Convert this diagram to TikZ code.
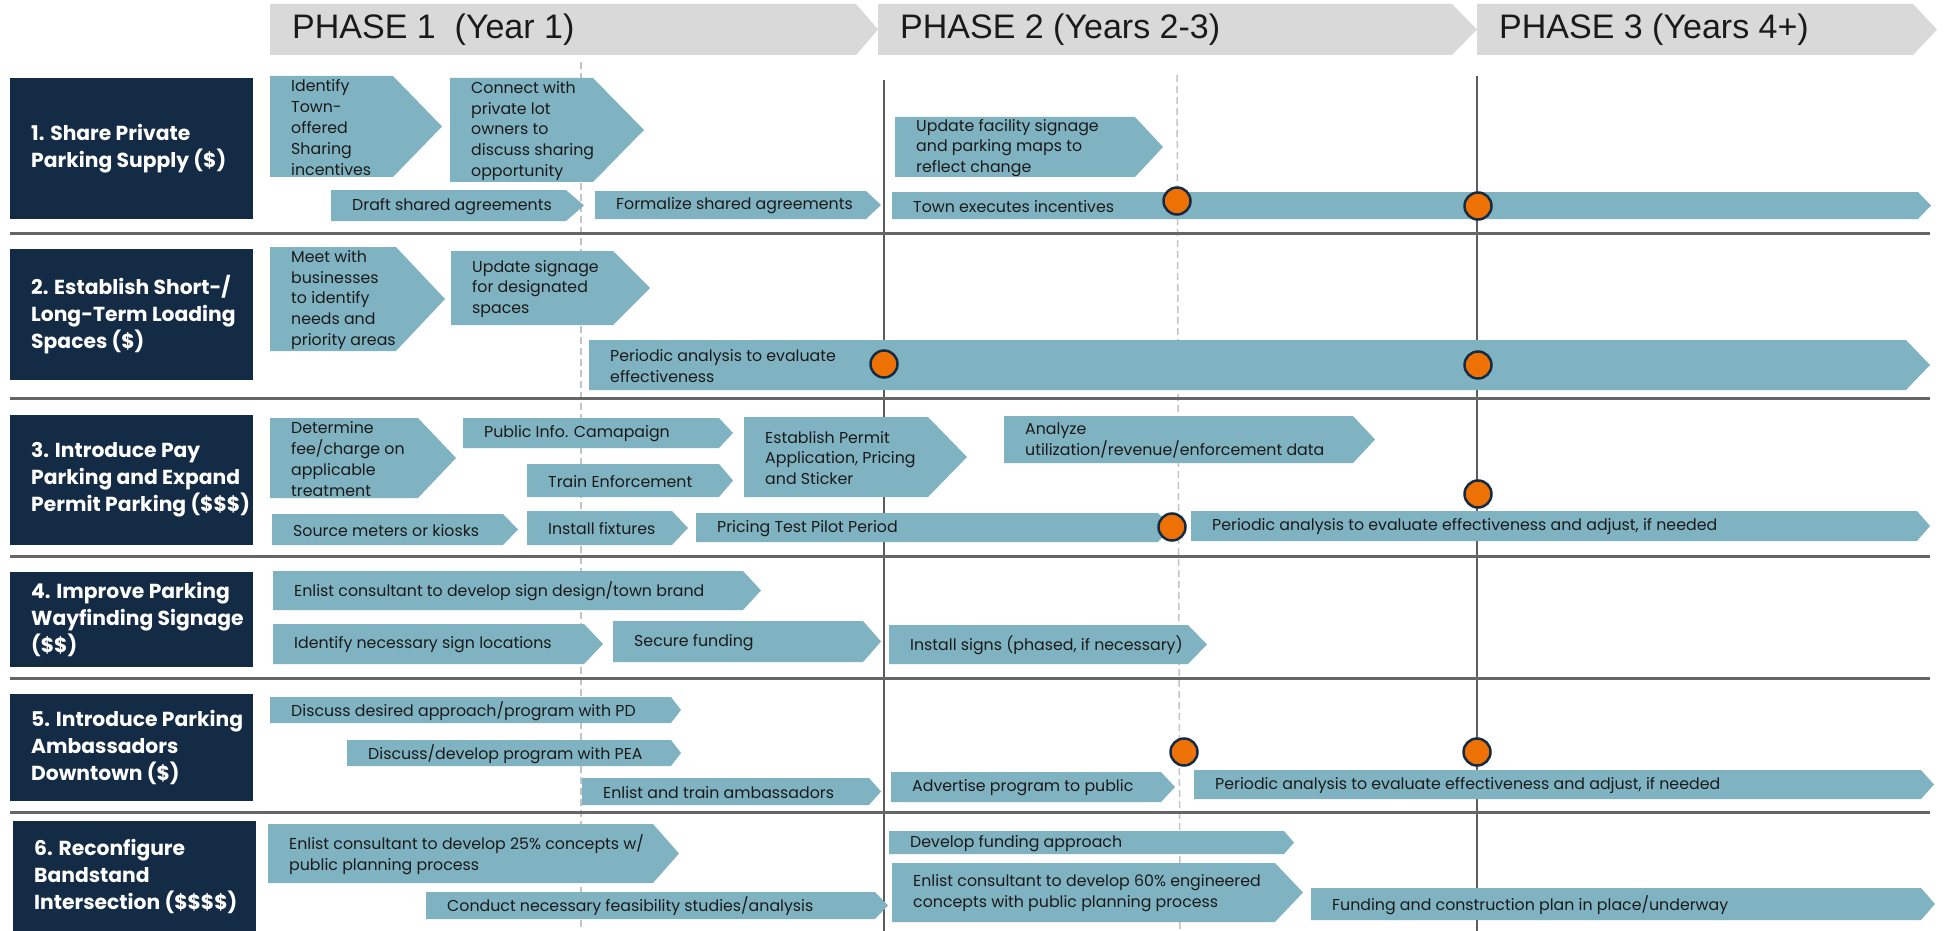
\documentclass[tikz,border=0pt]{standalone}
\usepackage{fontspec}
\setmainfont{Poppins}
\newfontfamily\headfont{Liberation Sans}

\definecolor{taskblue}{HTML}{80B3C2}
\definecolor{navy}{HTML}{142B45}
\definecolor{bannergray}{HTML}{D9D9D9}
\definecolor{dotorange}{HTML}{EE7203}
\definecolor{gridgray}{HTML}{666666}
\definecolor{dashgray}{HTML}{C4C4C4}
\definecolor{inkdark}{HTML}{1A1A1A}

% chevron task bar: name, left x, top y, body end x, tip x, bottom y, text
\newcommand\taskbar[7]{%
  \fill[taskblue] (#2,#3) -- (#4,#3) -- (#5,{(#3+#6)/2}) -- (#4,#6) -- (#2,#6) -- cycle;
  \node[tasktext] (#1) at ({#2+21},{(#3+#6)/2+1}) {#7};
}
% phase banner: name, left x, top y, body end x, tip x, bottom y, text
\newcommand\phasebar[7]{%
  \fill[bannergray] (#2,#3) -- (#4,#3) -- (#5,{(#3+#6)/2}) -- (#4,#6) -- (#2,#6) -- cycle;
  \node[phasetext] (#1) at ({#2+22},{(#3+#6)/2}) {#7};
}
% action label box: name, x1, y1, x2, y2, text
\newcommand\rowbox[6]{%
  \fill[navy] (#2,#3) rectangle (#4,#5);
  \node[rowlabel] (#1) at ({#2+21},{(#3+#5)/2}) {#6};
}

\begin{document}
\begin{tikzpicture}[x=1pt,y=-1pt,
  tasktext/.style={anchor=west, inner sep=0pt, align=left, text=inkdark,
    font=\fontsize{15.8}{20.8}\selectfont},
  phasetext/.style={anchor=west, inner sep=0pt, text=inkdark,
    font=\headfont\fontsize{34}{40}\selectfont},
  rowlabel/.style={anchor=west, inner sep=0pt, align=left, text=white,
    font=\bfseries\fontsize{20.3}{27}\selectfont},
  milestone/.style={circle, draw=navy, line width=2.5pt, fill=dotorange,
    minimum size=27pt, inner sep=0pt},
  separator/.style={draw=gridgray, line width=3pt},
  phaseline/.style={draw=gridgray!90!black, line width=2pt},
  yearline/.style={draw=dashgray, line width=1.5pt, dash pattern=on 7pt off 4pt}
]
\useasboundingbox (0,0) rectangle (1947,931);
\fill[white] (0,0) rectangle (1947,931);

% phase banners
\phasebar{p1}{270}{4}{856}{878}{55}{PHASE 1~~(Year 1)}
\phasebar{p2}{878}{4}{1452}{1477}{55}{PHASE 2 (Years 2-3)}
\phasebar{p3}{1477}{4}{1913}{1937}{55}{PHASE 3 (Years 4+)}

% time grid
\coordinate (q1t) at (581,62);  \coordinate (q1b) at (581,931);
\coordinate (y1t) at (884,80);  \coordinate (y1b) at (884,931);
\coordinate (q2t) at (1177,75); \coordinate (q2b) at (1180,931);
\coordinate (y3t) at (1477,76); \coordinate (y3b) at (1477,931);
\draw[yearline] (q1t) -- (q1b);
\draw[yearline] (q2t) -- (q2b);
\draw[phaseline] (y1t) -- (y1b);
\draw[phaseline] (y3t) -- (y3b);

% row separators
\foreach \yy/\nm in {233/s1, 398/s2, 556/s3, 678/s4, 812/s5}{
  \coordinate (\nm l) at (10,\yy);
  \coordinate (\nm r) at (1930,\yy);
  \draw[separator] (\nm l) -- (\nm r);
}

% action labels
\rowbox{r1}{10}{78}{253}{219}{1. Share Private\\Parking Supply (\$)}
\rowbox{r2}{10}{249}{253}{380}{2. Establish Short-/\\Long-Term Loading\\Spaces (\$)}
\rowbox{r3}{10}{415}{253}{545}{3. Introduce Pay\\Parking and Expand\\Permit Parking (\$\$\$)}
\rowbox{r4}{10}{572}{253}{667}{4. Improve Parking\\Wayfinding Signage\\(\$\$)}
\rowbox{r5}{10}{694}{253}{801}{5. Introduce Parking\\Ambassadors\\Downtown (\$)}
\rowbox{r6}{13}{821}{256}{931}{6. Reconfigure\\Bandstand\\Intersection (\$\$\$\$)}

% 1. shared private parking
\taskbar{t1a}{270}{76}{393}{442}{177}{Identify\\Town-\\offered\\Sharing\\incentives}
\taskbar{t1b}{450}{78}{593}{644}{182}{Connect with\\private lot\\owners to\\discuss sharing\\opportunity}
\taskbar{t1c}{331}{190}{566}{584}{221}{Draft shared agreements}
\taskbar{t1d}{595}{191}{866}{881}{219}{Formalize shared agreements}
\taskbar{t1e}{895}{117}{1135}{1163}{177}{Update facility signage\\and parking maps to\\reflect change}
\taskbar{t1f}{892}{192}{1918}{1931}{219}{Town executes incentives}

% 2. loading spaces
\taskbar{t2a}{270}{247}{396}{445}{351}{Meet with\\businesses\\to identify\\needs and\\priority areas}
\taskbar{t2b}{451}{251}{613}{650}{325}{Update signage\\for designated\\spaces}
\taskbar{t2c}{589}{340}{1906}{1930}{390}{Periodic analysis to evaluate\\effectiveness}

% 3. pay and permit parking
\taskbar{t3a}{270}{418}{418}{456}{498}{Determine\\fee/charge on\\applicable\\treatment}
\taskbar{t3b}{463}{418}{719}{733}{448}{Public Info. Camapaign}
\taskbar{t3c}{527}{464}{719}{733}{497}{Train Enforcement}
\taskbar{t3d}{744}{417}{928}{967}{497}{Establish Permit\\Application, Pricing\\and Sticker}
\taskbar{t3e}{272}{514}{503}{518}{545}{Source meters or kiosks}
\taskbar{t3f}{527}{511}{672}{688}{545}{Install fixtures}
\taskbar{t3g}{696}{513}{1158}{1172}{542}{Pricing Test Pilot Period}
\taskbar{t3h}{1004}{416}{1353}{1375}{463}{Analyze\\utilization/revenue/enforcement data}
\taskbar{t3i}{1191}{511}{1917}{1930}{541}{Periodic analysis to evaluate effectiveness and adjust, if needed}

% 4. wayfinding signage
\taskbar{t4a}{273}{571}{743}{761}{610}{Enlist consultant to develop sign design/town brand}
\taskbar{t4b}{273}{624}{584}{603}{664}{Identify necessary sign locations}
\taskbar{t4c}{613}{621}{863}{881}{662}{Secure funding}
\taskbar{t4d}{889}{625}{1188}{1207}{664}{Install signs (phased, if necessary)}

% 5. parking ambassadors
\taskbar{t5a}{270}{697}{671}{681}{723}{Discuss desired approach/program with PD}
\taskbar{t5b}{347}{740}{671}{681}{766}{Discuss/develop program with PEA}
\taskbar{t5c}{582}{778}{869}{881}{805}{Enlist and train ambassadors}
\taskbar{t5d}{891}{772}{1161}{1175}{802}{Advertise program to public}
\taskbar{t5e}{1194}{770}{1921}{1934}{799}{Periodic analysis to evaluate effectiveness and adjust, if needed}

% 6. bandstand intersection
\taskbar{t6a}{268}{824}{653}{679}{883}{Enlist consultant to develop 25\% concepts w/\\public planning process}
\taskbar{t6b}{426}{892}{875}{888}{919}{Conduct necessary feasibility studies/analysis}
\taskbar{t6c}{889}{831}{1284}{1294}{854}{Develop funding approach}
\taskbar{t6d}{892}{863}{1275}{1303}{922}{Enlist consultant to develop 60\% engineered\\concepts with public planning process}
\taskbar{t6e}{1311}{888}{1921}{1935}{920}{Funding and construction plan in place/underway}

% milestones
\node[milestone] (m1a) at (1177,201) {};
\node[milestone] (m1b) at (1478,206) {};
\node[milestone] (m2a) at (884,364) {};
\node[milestone] (m2b) at (1478,365) {};
\node[milestone] (m3a) at (1172,527) {};
\node[milestone] (m3b) at (1478,494) {};
\node[milestone] (m5a) at (1184,752) {};
\node[milestone] (m5b) at (1477,752) {};
\end{tikzpicture}
\end{document}
